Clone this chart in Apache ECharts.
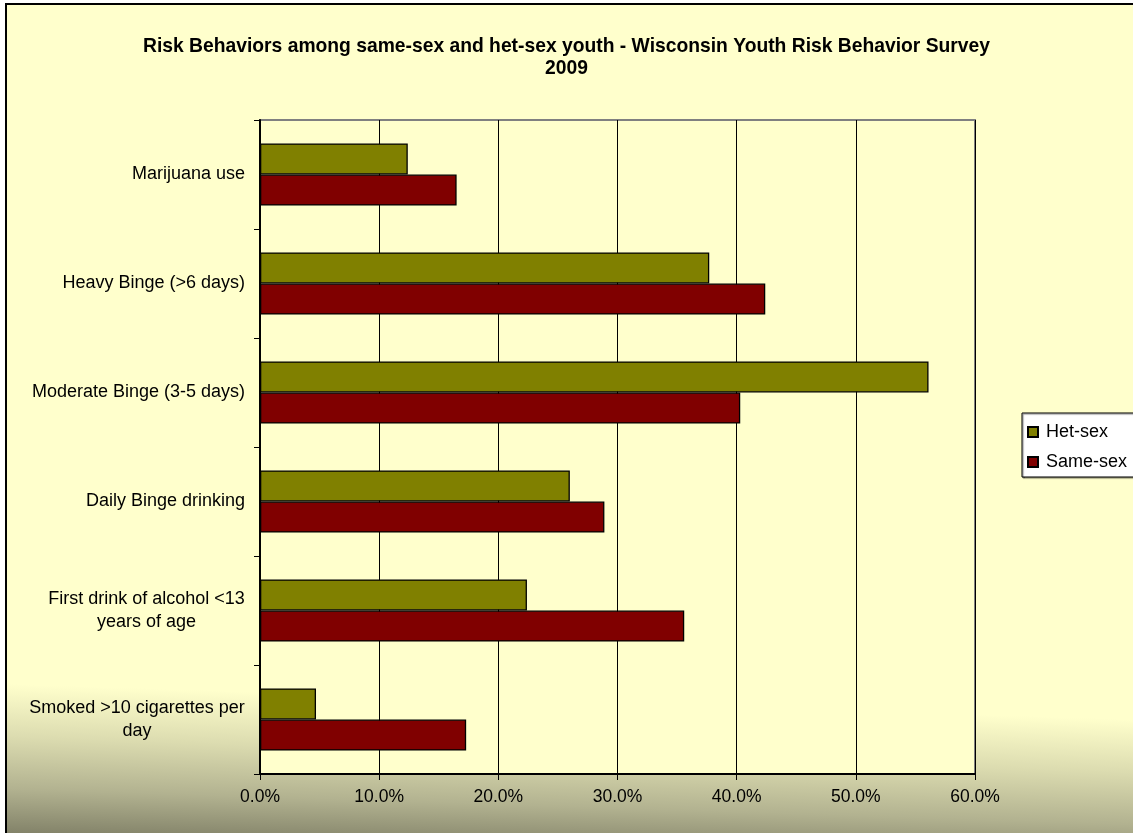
<!DOCTYPE html>
<html>
<head>
<meta charset="utf-8">
<script src="https://cdn.jsdelivr.net/npm/echarts@6/dist/echarts.min.js"></script>
<style>
  html, body { margin: 0; padding: 0; background: #ffffff; overflow: hidden; }
  #bg { position: absolute; left: 5px; top: 3px; width: 1140px; height: 840px;
        border: 2px solid #000; box-sizing: border-box;
        background: linear-gradient(181.8deg, #FFFFCC 0%, #FFFFCC 82%, #DCDCB0 88%, #B2B290 94%, #7A7A62 100%); }
  #chart { position: absolute; left: 0; top: 0; width: 1133px; height: 833px; }
</style>
</head>
<body>
<div id="bg"></div>
<div id="chart"></div>
<script>
const titleText = 'Risk Behaviors among same-sex and het-sex youth - Wisconsin Youth Risk Behavior Survey\n2009';
const categories = [
  'Marijuana use',
  'Heavy Binge (>6 days)',
  'Moderate Binge (3-5 days)',
  'Daily Binge drinking',
  'First drink of alcohol <13\nyears of age',
  'Smoked >10 cigarettes per\nday'
];
const seriesNames = ['Het-sex', 'Same-sex'];
const hetSex = [12.4, 37.7, 56.1, 26.0, 22.4, 4.7];
const sameSex = [16.5, 42.4, 40.3, 28.9, 35.6, 17.3];
const tickLabels = ['0.0%', '10.0%', '20.0%', '30.0%', '40.0%', '50.0%', '60.0%'];

const FONT = '"Liberation Sans", Arial, sans-serif';
const LABEL_SIZE = 17.5;
const CAT_SIZE = 18;

// measure widest line for multi-line category labels (centered lines, right-aligned block)
const cv = document.createElement('canvas').getContext('2d');
cv.font = CAT_SIZE + 'px ' + FONT;
const rich = {};
function lineWidth(v) {
  return Math.ceil(Math.max(...v.split('\n').map(l => cv.measureText(l).width)));
}
categories.forEach(v => {
  if (v.indexOf('\n') >= 0) {
    const w = lineWidth(v);
    rich['c' + w] = { width: w, align: 'center', fontSize: CAT_SIZE, fontFamily: FONT, color: '#000', lineHeight: 23 };
  }
});
function catFormatter(v) {
  if (v.indexOf('\n') < 0) return v;
  const w = lineWidth(v);
  return v.split('\n').map(l => '{c' + w + '|' + l + '}').join('\n');
}

const chart = echarts.init(document.getElementById('chart'), null, { renderer: 'canvas' });
chart.setOption({
  backgroundColor: 'transparent',
  animation: false,
  title: {
    text: titleText,
    left: 'center',
    top: 31,
    textStyle: { fontFamily: FONT, fontSize: 19.3, fontWeight: 'bold', color: '#000', lineHeight: 22 }
  },
  legend: {
    orient: 'vertical',
    left: 1022,
    top: 413,
    data: seriesNames,
    backgroundColor: '#ffffff',
    borderColor: '#000',
    borderWidth: 1,
    padding: [10, 20, 6, 5],
    itemWidth: 10,
    itemHeight: 10,
    itemGap: 12,
    icon: 'rect',
    shadowColor: 'rgba(0,0,0,0.5)',
    shadowOffsetX: 1,
    shadowOffsetY: 1,
    shadowBlur: 1,
    textStyle: { fontFamily: FONT, fontSize: CAT_SIZE, color: '#000', padding: [0, 0, 0, 3] }
  },
  grid: {
    left: 260, right: 158, top: 120, bottom: 59,
    show: true, backgroundColor: '#FFFFCC', borderColor: '#808080', borderWidth: 2
  },
  xAxis: {
    type: 'value', min: 0, max: 60, interval: 10,
    axisLine: { show: true, lineStyle: { color: '#000', width: 2 } },
    axisTick: { show: true, length: 6, lineStyle: { color: '#000', width: 1 } },
    splitLine: { show: true, lineStyle: { color: '#000', width: 1 } },
    axisLabel: {
      margin: 14, fontFamily: FONT, fontSize: LABEL_SIZE, color: '#000',
      formatter: (v) => tickLabels[Math.round(v / 10)]
    }
  },
  yAxis: {
    type: 'category', inverse: true, data: categories,
    axisLine: { show: true, lineStyle: { color: '#000', width: 2 } },
    axisTick: { show: true, length: 6, lineStyle: { color: '#000', width: 1 } },
    splitLine: { show: false },
    axisLabel: {
      margin: 15, fontFamily: FONT, fontSize: CAT_SIZE, color: '#000', lineHeight: 23,
      align: 'right', formatter: catFormatter, rich: rich
    }
  },
  series: [
    {
      name: 'Het-sex', type: 'bar', data: hetSex,
      barGap: '0%', barCategoryGap: '43%',
      itemStyle: { color: '#808000', borderColor: '#000', borderWidth: 1.3 }
    },
    {
      name: 'Same-sex', type: 'bar', data: sameSex,
      barGap: '0%', barCategoryGap: '43%',
      itemStyle: { color: '#800000', borderColor: '#000', borderWidth: 1.3 }
    }
  ]
});
</script>
</body>
</html>
